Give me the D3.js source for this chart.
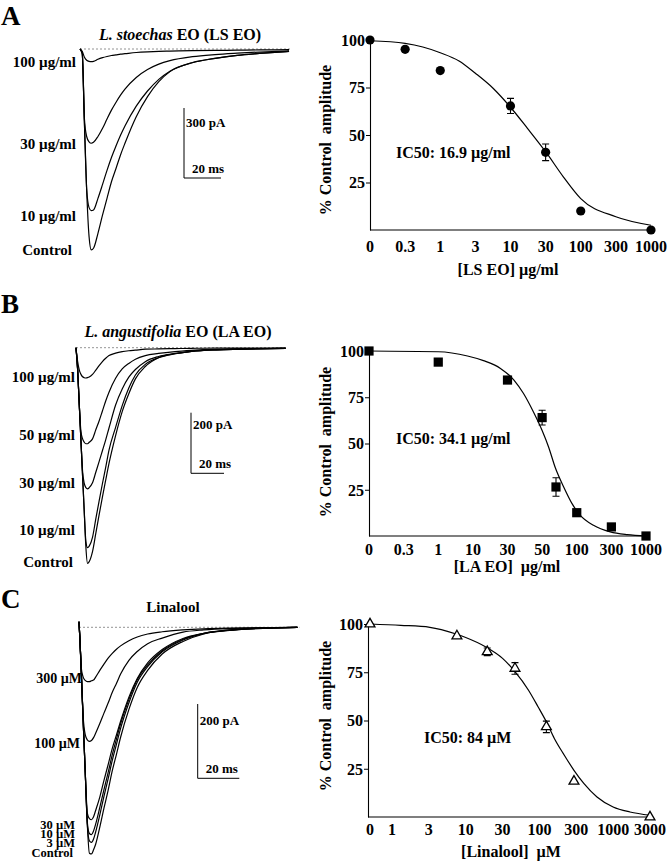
<!DOCTYPE html>
<html><head><meta charset="utf-8">
<script src="https://cdn.jsdelivr.net/npm/d3@7"></script>
<style>body{margin:0;background:#fff;}svg{display:block;}</style>
</head><body>
<svg id="chart" width="668" height="861"></svg>
<script>
// ---------------- DATA ----------------
// Panel A: current traces (time in ms, current in pA)
const timeA = [0,1.2,2.4,3.6,4.9,6.1,7.3,9.7,12.2,14.6,17,19.5,21.9,24.3,30.4,36.5,42.6,48.6,60.8,73,85,97,113];
const traceA_control = [0,-19,-319,-604,-804,-861,-854,-790,-711,-640,-569,-511,-454,-404,-290,-204,-140,-97,-59,-40,-27,-19,-10];
const traceA_10 = [0,-19,-319,-600,-680,-693,-690,-640,-580,-520,-465,-415,-370,-330,-245,-180,-130,-95,-58,-40,-27,-19,-10];
const traceA_30 = [0,-19,-300,-375,-398,-404,-400,-375,-340,-300,-262,-228,-198,-172,-122,-88,-65,-50,-33,-24,-18,-13,-8];
const traceA_100 = [0,-10,-35,-48,-53,-54,-53,-44,-37,-32,-28,-25,-22,-20,-15,-12,-10,-9,-7,-6,-5,-4,-3];
const labelsA = ["100 \u00b5g/ml","30 \u00b5g/ml","10 \u00b5g/ml","Control"];

// Panel B traces
const timeB = [0,1,2,3,4,5,6,7,8,10,12,14,16,18,20,24,28,32,36,42,50,60,70,85,100,127];
const traceB_control = [0,-73,-190,-307,-425,-541,-659,-712,-706,-673,-613,-552,-493,-437,-382,-290,-211,-152,-103,-62,-33,-20,-12,-7,-5,-2];
const traceB_10 = [0,-73,-190,-307,-425,-541,-640,-660,-655,-626,-565,-506,-449,-395,-338,-263,-191,-133,-90,-55,-33,-20,-12,-7,-5,-2];
const traceB_30 = [0,-73,-190,-307,-409,-448,-462,-466,-462,-446,-411,-376,-340,-304,-265,-189,-136,-97,-72,-46,-29,-19,-12,-7,-5,-2];
const traceB_50 = [0,-73,-190,-277,-301,-312,-317,-317,-312,-301,-271,-242,-209,-176,-147,-101,-70,-52,-38,-26,-19,-13,-9,-5,-3,-2];
const traceB_100 = [0,-46,-74,-88,-96,-99,-100,-99,-97,-88,-74,-59,-46,-35,-26,-18,-13,-10,-8,-5,-4,-3,-2,-1,-1,-1];
const labelsB = ["100 \u00b5g/ml","50 \u00b5g/ml","30 \u00b5g/ml","10 \u00b5g/ml","Control"];

// Panel C traces
const timeC = [0,0.5,1,2,3,4,5,6,7,8,10,12,14,16,18,20,24,28,33,40,50,60,75,105];
const traceC_control = [15,-38.5,-106,-251,-390,-531,-608,-610,-599,-584,-538,-487,-439,-386,-342,-296,-221,-162,-116,-72,-38,-18,-7,0];
const traceC_3 = [15,-38.5,-106,-251,-390,-531,-575,-579,-570,-551,-505,-455,-408,-358,-315,-272,-203,-148,-106,-66,-34,-17,-7,0];
const traceC_10 = [15,-38.5,-106,-251,-390,-525,-555,-558,-548,-530,-485,-437,-391,-343,-301,-260,-194,-141,-101,-63,-32,-16,-6,0];
const traceC_30 = [15,-38.5,-106,-251,-390,-500,-515,-518,-510,-493,-457,-412,-370,-326,-290,-253,-188,-138,-96,-60,-30,-16,-6,0];
const traceC_100 = [15,-38.5,-106,-240,-289,-303,-307,-305,-297,-285,-259,-231,-204,-175,-151,-126,-89,-65,-44,-29,-13,-7,-3,0];
const traceC_300 = [15,-38.5,-106,-134,-143,-146,-146,-144,-142,-134,-116,-99,-83,-70,-59,-50,-36,-26,-18,-12,-7,-4,-2,0];
const labelsC = ["300 \u00b5M","100 \u00b5M","30 \u00b5M","10 \u00b5M","3 \u00b5M","Control"];

// Dose-response A
const ticksA = [0,0.3,1,3,10,30,100,300,1000];
const concA = [0,0.3,1,10,30,100,1000];
const respA = [100,95.1,83.9,65.3,40.9,10,0];
const errA = [0,0,0,4,4.4,0,0];
const fitConcA = [0,0.3,0.55,1,1.8,3,5.5,10,17,30,55,100,300,1000];
const fitRespA = [99.6,98.2,96.3,93.3,89,82.5,74.6,64.6,53.5,41.2,28,16.5,7,2.5];

// Dose-response B
const ticksB = [0,0.3,1,10,30,50,100,300,1000];
const concB = [0,1,30,50,66,100,300,1000];
const respB = [100,94,84.3,64,26.5,12.6,4.9,0];
const errB = [0,0,1.5,4,5,0,0,0];
const fitConcB = [0,1,7,14,24,33,38,44,50,57,65,77,91,112,170,290,520,1000];
const fitRespB = [100,99.6,97.3,94.8,90.6,84.3,77,67,57,48,37,26.5,17.5,11.2,5.8,2.2,0.7,0];

// Dose-response C
const ticksC = [0,1,3,10,30,100,300,1000,3000];
const concC = [0,7.5,19,45,123,280,3000];
const respC = [100,93.8,85.6,77,46.7,18.5,0];
const errC = [0,0,2,3,3,0,0];
const fitConcC = [0,1.3,3.1,7.3,10,18,30,45,70,96,123,156,210,280,386,590,1000,1650,3000];
const fitRespC = [100,99.3,98.3,94.8,93,88.2,82.2,75.3,65.7,57,49.3,40.7,32,24.2,17.3,10.4,5.2,2.6,0.9];

const yTicks = [25,50,75,100];

// ---------------- DRAWING ----------------
const FONT = "'Liberation Serif','Times New Roman',serif";
const svg = d3.select("#chart");
svg.append("rect").attr("width",668).attr("height",861).attr("fill","#fff");

function txt(g, x, y, s, o = {}) {
  return g.append("text").attr("x", x).attr("y", y).text(s)
    .attr("font-family", FONT).attr("font-weight", o.weight || "bold")
    .attr("font-size", o.size || 15).attr("text-anchor", o.anchor || "start")
    .attr("fill", "#000");
}

function drawTraces(c) {
  const g = svg.append("g");
  const x = d3.scaleLinear().domain([0, 20]).range([c.x0, c.x0 + c.msPx]);
  const y = d3.scaleLinear().domain([0, -c.barPa]).range([c.base, c.base + c.paPx]);
  const tMax = d3.max(c.time);
  g.append("line").attr("x1", x(0)).attr("x2", x(tMax) + 2)
    .attr("y1", y(0)).attr("y2", y(0))
    .attr("stroke", "#777").attr("stroke-width", 0.8).attr("stroke-dasharray", "2,2");
  const line = d3.line().x((d, i) => x(c.time[i])).y(d => y(d)).curve(d3.curveMonotoneX);
  c.traces.forEach(tr => {
    g.append("path").attr("d", line(tr)).attr("fill", "none")
      .attr("stroke", "#000").attr("stroke-width", 1.2);
  });
  // scale bar
  const vLen = y(-c.barPa) - y(0), hLen = x(20) - x(0);
  g.append("path").attr("d", `M${c.bx},${c.by}V${c.by + vLen}H${c.bx + hLen}`)
    .attr("fill", "none").attr("stroke", "#000").attr("stroke-width", 1);
  txt(g, c.bx + 2, c.by + c.paTextDy, c.barPa + " pA", {size: 13});
  txt(g, c.bx + 8, c.by + vLen - 5, "20 ms", {size: 13});
  // labels
  c.labels.forEach((s, i) => txt(g, c.labelX[i], c.labelY[i], s, {size: c.labelSize[i], anchor: "end"}));
}

function drawDose(c) {
  const g = svg.append("g");
  const idx = d3.scaleLinear().domain(c.ticks.slice(1).map(Math.log10)).range(d3.range(1, c.ticks.length));
  const px = d3.scaleLinear().domain(c.idxDomain).range(c.idxRange);
  const X = v => px(v <= 0 ? 0 : idx(Math.log10(v)));
  const y = d3.scaleLinear().domain([0, 100]).range([c.y0, c.y100]);
  // y axis
  const ax = g.append("g").attr("transform", `translate(${c.xAxis},0)`)
    .call(d3.axisLeft(y).tickValues(yTicks).tickSize(4).tickSizeOuter(0).tickPadding(1));
  ax.select(".domain").attr("stroke", "#000").attr("stroke-width", 1.1);
  ax.selectAll(".tick line").attr("stroke", "#000");
  ax.selectAll(".tick text").attr("font-family", FONT).attr("font-weight", "bold")
    .attr("font-size", 16).attr("fill", "#000").attr("dy", "0.34em");
  // x axis
  g.append("line").attr("x1", c.xAxis).attr("x2", px(c.ticks.length - 1) + 2)
    .attr("y1", y(0)).attr("y2", y(0)).attr("stroke", "#000").attr("stroke-width", 1.1);
  c.ticks.forEach((t, i) => txt(g, px(i), c.tickY, String(t), {size: 16, anchor: "middle"}));
  txt(g, c.xTitleX, c.xTitleY, c.xTitle, {size: 16, anchor: "middle"});
  g.append("text").attr("transform", `translate(${c.yTitleX},${c.yTitleY}) rotate(-90)`)
    .attr("text-anchor", "middle").attr("font-family", FONT).attr("font-weight", "bold")
    .attr("font-size", 16).text("% Control  amplitude");
  // fit
  const line = d3.line().x((d, i) => X(c.fitConc[i])).y(d => y(d)).curve(d3.curveMonotoneX);
  g.append("path").attr("d", line(c.fitResp)).attr("fill", "none")
    .attr("stroke", "#000").attr("stroke-width", 1.2);
  // error bars
  c.conc.forEach((v, i) => {
    const e = c.err[i];
    if (!e) return;
    const xx = X(v), y1 = y(c.resp[i] + e), y2 = y(c.resp[i] - e);
    g.append("path").attr("d", `M${xx},${y1}V${y2}M${xx - 3.5},${y1}H${xx + 3.5}M${xx - 3.5},${y2}H${xx + 3.5}`)
      .attr("stroke", "#000").attr("stroke-width", 1.1).attr("fill", "none");
  });
  // points
  c.conc.forEach((v, i) => {
    const xx = X(v), yy = y(c.resp[i]);
    if (c.marker === "circle") {
      g.append("circle").attr("cx", xx).attr("cy", yy).attr("r", 4.6).attr("fill", "#000");
    } else if (c.marker === "square") {
      g.append("rect").attr("x", xx - 4.6).attr("y", yy - 4.6).attr("width", 9.2).attr("height", 9.2).attr("fill", "#000");
    } else {
      g.append("path").attr("d", d3.symbol(d3.symbolTriangle, 42)())
        .attr("transform", `translate(${xx},${yy})`)
        .attr("fill", "#fff").attr("stroke", "#000").attr("stroke-width", 1.3);
    }
  });
  txt(g, c.icX, c.icY, c.icText, {size: 16});
}

// Panel letters and titles
txt(svg, 1, 25, "A", {size: 27});
txt(svg, 1, 313, "B", {size: 27});
txt(svg, 1, 608, "C", {size: 27});

function title(x, y, italic, rest, size) {
  const t = svg.append("text").attr("x", x).attr("y", y).attr("text-anchor", "middle")
    .attr("font-family", FONT).attr("font-weight", "bold").attr("font-size", size);
  if (italic) t.append("tspan").attr("font-style", "italic").text(italic + " ");
  t.append("tspan").text(rest);
}
title(180, 40, "L. stoechas", "EO (LS EO)", 16);
title(178, 337, "L. angustifolia", "EO (LA EO)", 16);
title(173, 612, null, "Linalool", 15);

drawTraces({
  time: timeA, traces: [traceA_control, traceA_10, traceA_30, traceA_100],
  x0: 80, msPx: 37, base: 49, barPa: 300, paPx: 70,
  bx: 184, by: 108, paTextDy: 19,
  labels: labelsA, labelX: [76, 76, 76, 72], labelY: [67, 149, 221, 255], labelSize: [15, 15, 15, 15]
});
drawTraces({
  time: timeB, traces: [traceB_control, traceB_10, traceB_30, traceB_50, traceB_100],
  x0: 76, msPx: 33, base: 347.7, barPa: 200, paPx: 60.6,
  bx: 191, by: 412.7, paTextDy: 16,
  labels: labelsB, labelX: [75, 75, 75, 75, 73], labelY: [382, 440, 488, 535, 567], labelSize: [15, 15, 15, 15, 15]
});
drawTraces({
  time: timeC, traces: [traceC_control, traceC_3, traceC_10, traceC_30, traceC_100, traceC_300],
  x0: 79, msPx: 41.6, base: 627.3, barPa: 200, paPx: 74.3,
  bx: 197.7, by: 704, paTextDy: 21,
  labels: labelsC, labelX: [82, 80, 75, 75, 75, 73], labelY: [683, 748, 829, 838, 847, 857],
  labelSize: [14, 14, 12.5, 12.5, 12.5, 12.5]
});

drawDose({
  ticks: ticksA, idxDomain: [0, 8], idxRange: [370, 651], xAxis: 370, y0: 230, y100: 40,
  tickY: 252, xTitle: "[LS EO] \u00b5g/ml", xTitleX: 508, xTitleY: 275, yTitleX: 331, yTitleY: 140,
  conc: concA, resp: respA, err: errA, fitConc: fitConcA, fitResp: fitRespA, marker: "circle",
  icX: 396, icY: 158, icText: "IC50: 16.9 \u00b5g/ml"
});
drawDose({
  ticks: ticksB, idxDomain: [0, 8], idxRange: [369, 646], xAxis: 369, y0: 536, y100: 351,
  tickY: 555, xTitle: "[LA EO]  \u00b5g/ml", xTitleX: 507, xTitleY: 572, yTitleX: 331, yTitleY: 442,
  conc: concB, resp: respB, err: errB, fitConc: fitConcB, fitResp: fitRespB, marker: "square",
  icX: 396, icY: 444, icText: "IC50: 34.1 \u00b5g/ml"
});
drawDose({
  ticks: ticksC, idxDomain: [0, 1, 8], idxRange: [370, 392, 650], xAxis: 368, y0: 817, y100: 624,
  tickY: 835, xTitle: "[Linalool]  \u00b5M", xTitleX: 511, xTitleY: 857, yTitleX: 331, yTitleY: 716,
  conc: concC, resp: respC, err: errC, fitConc: fitConcC, fitResp: fitRespC, marker: "triangle",
  icX: 424, icY: 743, icText: "IC50: 84 \u00b5M"
});
svg.selectAll("text").style("white-space", "pre");
</script>
</body></html>
